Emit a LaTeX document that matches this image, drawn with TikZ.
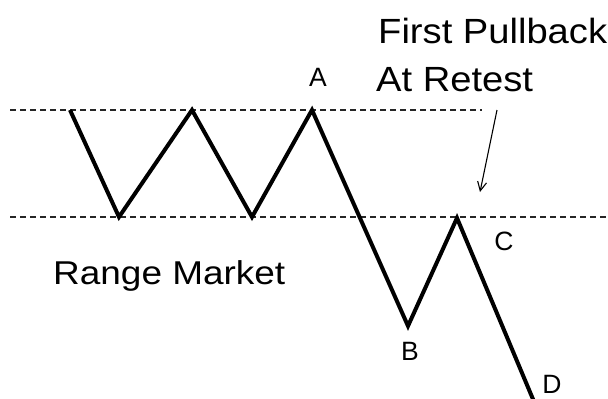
\documentclass[tikz,border=0pt]{standalone}
\usepackage{fontspec}
\setmainfont{Liberation Sans}
\usetikzlibrary{arrows.meta}
\begin{document}
\begin{tikzpicture}[x=1pt,y=-1pt,
  guide/.style={line width=1.5pt,dash pattern=on 6pt off 4pt,black!85},
  price/.style={line width=4pt,line join=miter,black},
  lbl/.style={inner sep=0pt,font=\fontsize{26.5}{30}\selectfont},
  big/.style={inner sep=0pt,anchor=base west},
  pointer/.style={line width=1.1pt,-{Straight Barb[length=9pt,width=9pt,line width=1.1pt]}}]
\useasboundingbox (0,0) rectangle (608,399);
\clip (0,0) rectangle (608,399);
% guide lines
\coordinate (t0) at (10,110);
\coordinate (t1) at (482,110);
\coordinate (b0) at (10,217);
\coordinate (b1) at (608,217);
\draw[guide] (t0) -- (t1);
\draw[guide] (b0) -- (b1);
% price path
\coordinate (p0) at (70,110);
\coordinate (p1) at (119,217);
\coordinate (p2) at (192,110);
\coordinate (p3) at (252,217);
\coordinate (p4) at (312,110);
\coordinate (p5) at (408,326);
\coordinate (p6) at (457,218);
\coordinate (p7) at (535,404);
\draw[price] (p0) -- (p1) -- (p2) -- (p3) -- (p4) -- (p5) -- (p6) -- (p7);
% labels
\node[lbl] (A) at (318,77) {A};
\node[lbl] (B) at (410,351) {B};
\node[lbl] (C) at (504,241) {C};
\node[lbl] (D) at (552,384) {D};
\node[big] (fp) at (378,43) {\scalebox{1.09}[1]{\fontsize{35}{40}\selectfont First Pullback}};
\node[big] (ar) at (376,91) {\scalebox{1.09}[1]{\fontsize{35}{40}\selectfont At Retest}};
\node[big] (rm) at (53,284) {\scalebox{1.12}[1]{\fontsize{33}{38}\selectfont Range Market}};
% arrow
\coordinate (a0) at (497,110);
\coordinate (a1) at (480,192);
\draw[pointer] (a0) -- (a1);
\end{tikzpicture}
\end{document}
